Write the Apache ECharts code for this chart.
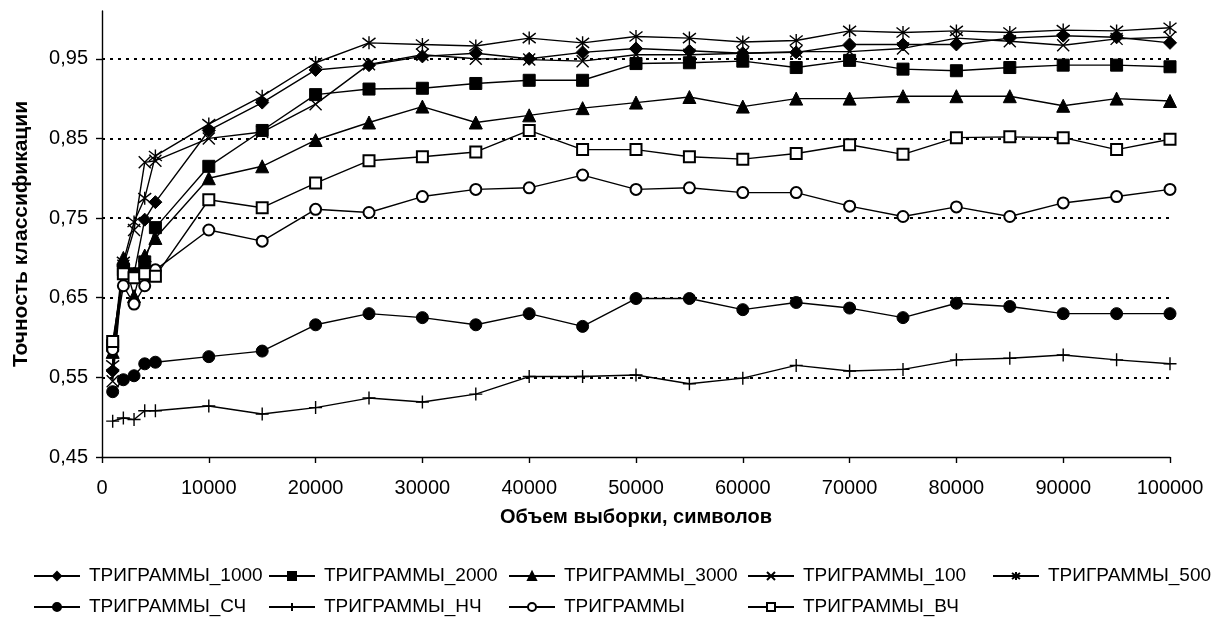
<!DOCTYPE html>
<html>
<head>
<meta charset="utf-8">
<script src="https://cdn.jsdelivr.net/npm/echarts@6/dist/echarts.min.js"></script>
<style>
  html, body { margin: 0; padding: 0; background: #fff; }
  #main { width: 1217px; height: 626px; }
</style>
</head>
<body>
<div id="main"></div>
<script>
// объем выборки (символов)
var xs = [1000, 2000, 3000, 4000, 5000, 10000, 15000, 20000, 25000, 30000, 35000, 40000,
          45000, 50000, 55000, 60000, 65000, 70000, 75000, 80000, 85000, 90000, 95000, 100000];

// точность классификации по сериям
var tri1000 = [0.558, 0.690, 0.680, 0.748, 0.770, 0.860, 0.895, 0.936, 0.942, 0.953, 0.957, 0.950,
               0.958, 0.963, 0.960, 0.957, 0.958, 0.968, 0.968, 0.968, 0.976, 0.979, 0.977, 0.970];
var tri2000 = [0.590, 0.685, 0.680, 0.695, 0.738, 0.815, 0.860, 0.905, 0.912, 0.913, 0.919, 0.923,
               0.923, 0.944, 0.945, 0.947, 0.939, 0.948, 0.937, 0.935, 0.939, 0.942, 0.942, 0.940];
var tri3000 = [0.582, 0.700, 0.652, 0.703, 0.725, 0.800, 0.815, 0.848, 0.870, 0.890, 0.870, 0.879,
               0.888, 0.895, 0.902, 0.890, 0.900, 0.900, 0.903, 0.903, 0.903, 0.891, 0.900, 0.897];
var tri100  = [0.545, 0.690, 0.735, 0.820, 0.822, 0.850, 0.858, 0.893, 0.943, 0.955, 0.950, 0.949,
               0.947, 0.955, 0.955, 0.957, 0.959, 0.959, 0.963, 0.976, 0.972, 0.967, 0.975, 0.977];
var tri500  = [0.565, 0.695, 0.745, 0.775, 0.828, 0.868, 0.903, 0.945, 0.970, 0.968, 0.966, 0.976,
               0.970, 0.978, 0.976, 0.971, 0.973, 0.985, 0.983, 0.985, 0.983, 0.986, 0.985, 0.989];
var triSCH  = [0.532, 0.547, 0.552, 0.567, 0.569, 0.576, 0.583, 0.616, 0.630, 0.625, 0.616, 0.630,
               0.614, 0.649, 0.649, 0.635, 0.644, 0.637, 0.625, 0.643, 0.639, 0.630, 0.630, 0.630];
var triNCH  = [0.495, 0.499, 0.497, 0.508, 0.508, 0.514, 0.504, 0.512, 0.524, 0.519, 0.529, 0.551,
               0.551, 0.553, 0.542, 0.549, 0.565, 0.558, 0.560, 0.572, 0.574, 0.578, 0.572, 0.567];
var triAll  = [0.585, 0.665, 0.642, 0.665, 0.685, 0.735, 0.721, 0.761, 0.757, 0.777, 0.786, 0.788,
               0.804, 0.786, 0.788, 0.782, 0.782, 0.765, 0.752, 0.764, 0.752, 0.769, 0.777, 0.786];
var triVCH  = [0.595, 0.680, 0.675, 0.680, 0.677, 0.773, 0.763, 0.794, 0.822, 0.827, 0.833, 0.860,
               0.836, 0.836, 0.827, 0.824, 0.831, 0.842, 0.830, 0.851, 0.852, 0.851, 0.836, 0.849];

var yTicks = [0.45, 0.55, 0.65, 0.75, 0.85, 0.95];
var xTicks = [0, 10000, 20000, 30000, 40000, 50000, 60000, 70000, 80000, 90000, 100000];

var FONT = '"Liberation Sans", Arial, sans-serif';
var SYM_X = 'path://M0,0L10,10M10,0L0,10';
var SYM_STAR = 'path://M0,0L10,10M10,0L0,10M5,-1.5L5,11.5';
var SYM_PLUS = 'path://M5,0L5,10M0,5L10,5';

function pairs(arr) {
    var out = [];
    for (var i = 0; i < xs.length; i++) out.push([xs[i], arr[i]]);
    return out;
}

// серия: имя, данные, маркер, размер, тип заливки маркера
function mkSeries(name, arr, symbol, size, kind) {
    var st;
    if (kind == 'stroke') {
        st = { color: 'none', borderColor: '#000', borderWidth: 1.4 };
    } else if (kind == 'empty') {
        st = { color: '#000', borderColor: '#000', borderWidth: 1.3 };
    } else {
        st = { color: '#000', borderColor: '#000', borderWidth: 1 };
    }
    return {
        name: name,
        type: 'line',
        data: pairs(arr),
        symbol: symbol,
        symbolSize: size,
        showAllSymbol: true,
        animation: false,
        lineStyle: { color: '#000', width: 1.4 },
        itemStyle: st,
        emphasis: { disabled: true }
    };
}

var series = [
    mkSeries('ТРИГРАММЫ_1000', tri1000, 'diamond', 13, 'fill'),
    mkSeries('ТРИГРАММЫ_2000', tri2000, 'rect', 12, 'fill'),
    mkSeries('ТРИГРАММЫ_3000', tri3000, 'triangle', 13, 'fill'),
    mkSeries('ТРИГРАММЫ_100', tri100, SYM_X, 12, 'stroke'),
    mkSeries('ТРИГРАММЫ_500', tri500, SYM_STAR, 13, 'stroke'),
    mkSeries('ТРИГРАММЫ_СЧ', triSCH, 'circle', 12, 'fill'),
    mkSeries('ТРИГРАММЫ_НЧ', triNCH, SYM_PLUS, 13, 'stroke'),
    mkSeries('ТРИГРАММЫ', triAll, 'emptyCircle', 11, 'empty'),
    mkSeries('ТРИГРАММЫ_ВЧ', triVCH, 'emptyRect', 11, 'empty')
];

var legendCols = [
    ['ТРИГРАММЫ_1000', 'ТРИГРАММЫ_СЧ'],
    ['ТРИГРАММЫ_2000', 'ТРИГРАММЫ_НЧ'],
    ['ТРИГРАММЫ_3000', 'ТРИГРАММЫ'],
    ['ТРИГРАММЫ_100', 'ТРИГРАММЫ_ВЧ'],
    ['ТРИГРАММЫ_500']
];
var legendLeft = [33, 268, 508, 747, 992];
var legends = legendCols.map(function (names, i) {
    return {
        data: names,
        orient: 'vertical',
        left: legendLeft[i],
        top: 566,
        padding: 0,
        itemGap: 11,
        itemWidth: 46,
        itemHeight: 10,
        selectedMode: false,
        textStyle: { fontFamily: FONT, fontSize: 19, color: '#000', lineHeight: 20, padding: [0, 0, 0, 4] }
    };
});

var myChart = echarts.init(document.getElementById('main'), null, { renderer: 'canvas' });
myChart.setOption({
    backgroundColor: '#fff',
    animation: false,
    legend: legends,
    grid: { left: 102, right: 47, top: 11, bottom: 169, outerBoundsMode: 'none', containLabel: false },
    xAxis: {
        type: 'value',
        min: 0,
        max: 100000,
        interval: 10000,
        name: 'Объем выборки, символов',
        nameLocation: 'middle',
        nameGap: 50,
        nameTextStyle: { fontFamily: FONT, fontSize: 20, fontWeight: 'bold', color: '#000' },
        axisLine: { lineStyle: { color: '#000', width: 1.4 } },
        axisTick: { show: true, length: 6, lineStyle: { color: '#000', width: 1.4 } },
        axisLabel: {
            fontFamily: FONT, fontSize: 20, color: '#000', margin: 21, customValues: xTicks,
            formatter: function (v) { return String(v); }
        },
        splitLine: { show: false }
    },
    yAxis: {
        type: 'value',
        min: 0.45,
        max: 1.01,
        interval: 0.1,
        name: 'Точность классификации',
        nameLocation: 'middle',
        nameGap: 70,
        nameTextStyle: { fontFamily: FONT, fontSize: 21, fontWeight: 'bold', color: '#000' },
        axisLine: { show: true, lineStyle: { color: '#000', width: 1.4 } },
        axisTick: { show: true, length: 6, customValues: yTicks, lineStyle: { color: '#000', width: 1.4 } },
        axisLabel: {
            fontFamily: FONT, fontSize: 20, color: '#000', margin: 14,
            customValues: yTicks,
            formatter: function (v) { return v.toFixed(2).replace('.', ','); }
        },
        splitLine: {
            show: true, showMinLine: false, showMaxLine: true,
            lineStyle: { color: '#000', width: 2, type: [3, 5] }
        }
    },
    series: series
});
</script>
</body>
</html>
